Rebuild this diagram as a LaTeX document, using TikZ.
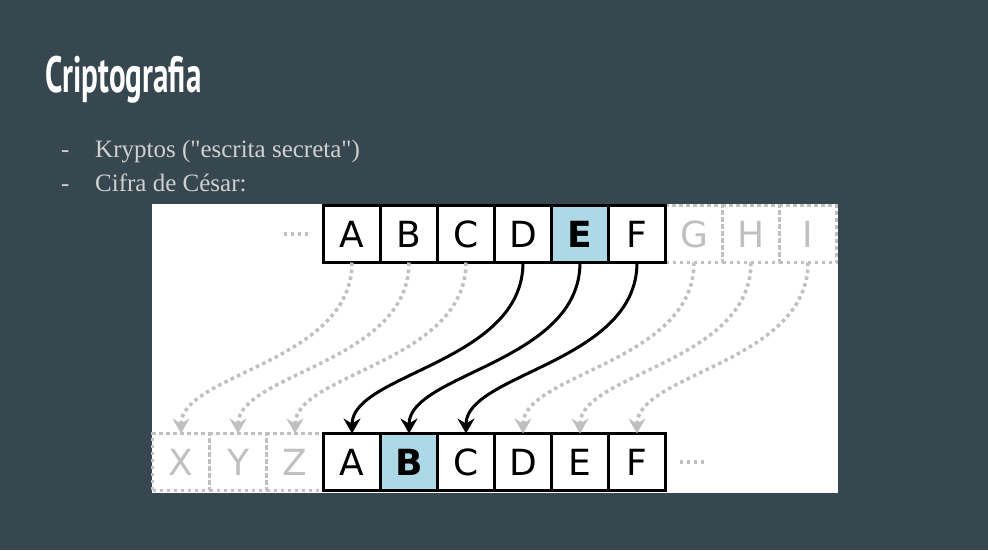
\documentclass[tikz,border=0pt]{standalone}
\usepackage{fontspec}
\setmainfont{Liberation Serif}
\newfontfamily\bulletfont{Liberation Serif}
\newfontfamily\titlefont{PT Sans}
\newfontfamily\boxfont{DejaVu Sans}
\usetikzlibrary{positioning,arrows.meta,calc,backgrounds}
\definecolor{slidebg}{HTML}{37474F}
\definecolor{bullettext}{HTML}{D0D0D0}
\definecolor{ghostgray}{HTML}{C0C0C0}
\definecolor{keyblue}{HTML}{ADD8E6}

\begin{document}
\begin{tikzpicture}[x=1pt,y=-1pt,
    letterbox/.style={draw=black, line width=3pt, fill=white, minimum size=57pt, inner sep=0pt, outer sep=0pt, font=\boxfont\fontsize{36}{36}\selectfont},
    keybox/.style={letterbox, fill=keyblue, font=\boxfont\bfseries\fontsize{36}{36}\selectfont},
    ghostbox/.style={letterbox, fill=none, draw=ghostgray, text=ghostgray, line width=3.5pt, dash pattern=on 3.5pt off 3.5pt},
    shiftarrow/.style={draw=black, line width=3pt, -{Stealth[length=15pt,width=17pt,inset=5pt]}},
    ghostarrow/.style={draw=ghostgray, line width=3.5pt, dash pattern=on 3.5pt off 3.5pt, -{Stealth[length=15pt,width=17pt,inset=5pt]}},
    ghostdots/.style={draw=ghostgray, line width=3.5pt, dash pattern=on 3.5pt off 3.5pt},
    bullet/.style={anchor=base west, inner sep=0pt, text=bullettext, font=\bulletfont\fontsize{25}{25}\selectfont},
  ]

  % slide and white panel
  \begin{scope}[on background layer]
    \fill[slidebg] (0,0) rectangle (988,550);
    \fill[white] (152,204) rectangle (838,493);
  \end{scope}
  \useasboundingbox (0,0) rectangle (988,550);

  \node[anchor=base west, inner sep=0pt, text=white, font=\titlefont\bfseries\fontsize{51}{51}\selectfont] (title) at (45,92) {\scalebox{0.61}[1]{Criptografia}};
  \node[bullet] (dashA) at (61,157) {-};
  \node[bullet] (itemA) at (95,157) {Kryptos ("escrita secreta")};
  \node[bullet] (dashB) at (61,191) {-};
  \node[bullet] (itemB) at (95,191) {Cifra de César:};

  % plain alphabet
  \node[letterbox] (tA) at (352,234) {A};
  \node[letterbox, right=0pt of tA] (tB) {B};
  \node[letterbox, right=0pt of tB] (tC) {C};
  \node[letterbox, right=0pt of tC] (tD) {D};
  \node[keybox,    right=0pt of tD] (tE) {E};
  \node[letterbox, right=0pt of tE] (tF) {F};

  % shifted alphabet
  \node[letterbox] (bA) at (352,462) {A};
  \node[keybox,    right=0pt of bA] (bB) {B};
  \node[letterbox, right=0pt of bB] (bC) {C};
  \node[letterbox, right=0pt of bC] (bD) {D};
  \node[letterbox, right=0pt of bD] (bE) {E};
  \node[letterbox, right=0pt of bE] (bF) {F};

  \begin{scope}[on background layer]
    \node[ghostbox, right=0pt of tF] (tG) {G};
    \node[ghostbox, right=0pt of tG] (tH) {H};
    \node[ghostbox, right=0pt of tH] (tI) {I};
    \node[ghostbox, left=0pt of bA]  (bZ) {Z};
    \node[ghostbox, left=0pt of bZ]  (bY) {Y};
    \node[ghostbox, left=0pt of bY]  (bX) {X};
  \end{scope}

  \coordinate (dotsT) at ($(tA.west)+(-40,0)$);
  \coordinate (dotsB) at ($(bF.east)+(14,0)$);
  \draw[ghostdots] (dotsT) -- ++(27,0);
  \draw[ghostdots] (dotsB) -- ++(27,0);

  \draw[ghostarrow] (tA.south) .. controls +(0,100) and +(0,-60) .. (bX.north);
  \draw[ghostarrow] (tB.south) .. controls +(0,100) and +(0,-60) .. (bY.north);
  \draw[ghostarrow] (tC.south) .. controls +(0,100) and +(0,-60) .. (bZ.north);
  \draw[ghostarrow] (tG.south) .. controls +(0,100) and +(0,-60) .. (bD.north);
  \draw[ghostarrow] (tH.south) .. controls +(0,100) and +(0,-60) .. (bE.north);
  \draw[ghostarrow] (tI.south) .. controls +(0,100) and +(0,-60) .. (bF.north);

  \draw[shiftarrow] (tD.south) .. controls +(0,100) and +(0,-60) .. (bA.north);
  \draw[shiftarrow] (tE.south) .. controls +(0,100) and +(0,-60) .. (bB.north);
  \draw[shiftarrow] (tF.south) .. controls +(0,100) and +(0,-60) .. (bC.north);

\end{tikzpicture}
\end{document}
